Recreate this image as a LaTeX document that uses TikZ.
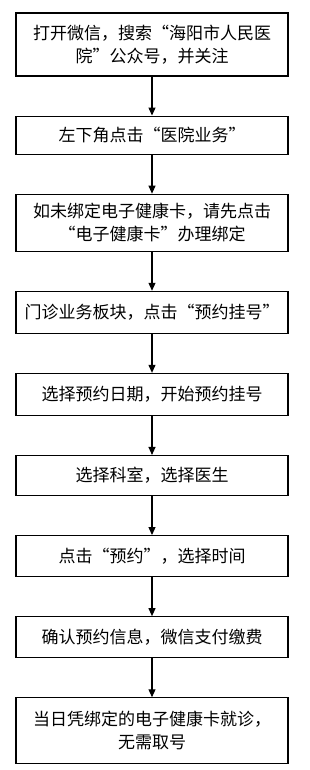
\documentclass[tikz,border=0pt]{standalone}
\usepackage{fontspec}
\newfontfamily\cjk{Noto Sans CJK SC}
\usetikzlibrary{arrows.meta,positioning}
\tikzset{
  flowbox/.style={rectangle, minimum width=272pt, minimum height=41pt, text width=262pt,
    align=center, draw=black, line width=1.1pt, fill=white,
    font=\cjk\fontsize{17}{23}\selectfont, inner sep=4pt},
  flowarr/.style={-{Triangle[length=8pt,width=7pt]}, line width=1.1pt, draw=black},
}
\begin{document}
\begin{tikzpicture}[x=1pt,y=1pt,node distance=39pt]
    \useasboundingbox (0,0) rectangle (309,-770);
    \node[flowbox,minimum height=63pt] (open) at (152,-44.5) {打开微信，搜索“海阳市人民医\\院”公众号，并关注};
    \node[flowbox,minimum height=38pt,below=of open] (yywu) {左下角点击“医院业务”};
    \node[flowbox,minimum height=57pt,below=of yywu] (bind) {如未绑定电子健康卡，请先点击\\“电子健康卡”办理绑定};
    \node[flowbox,minimum height=42pt,below=of bind] (mzyw) {门诊业务板块，点击“预约挂号”};
    \node[flowbox,minimum height=42pt,below=of mzyw] (rq) {选择预约日期，开始预约挂号};
    \node[flowbox,minimum height=40pt,below=of rq] (ks) {选择科室，选择医生};
    \node[flowbox,below=of ks] (sj) {点击“预约”，选择时间};
    \node[flowbox,below=of sj] (pay) {确认预约信息，微信支付缴费};
    \node[flowbox,minimum height=66pt,below=of pay] (visit) {当日凭绑定的电子健康卡就诊，\\无需取号};
    \draw[flowarr](open)--(yywu);\draw[flowarr](yywu)--(bind);\draw[flowarr](bind)--(mzyw);
    \draw[flowarr](mzyw)--(rq);\draw[flowarr](rq)--(ks);\draw[flowarr](ks)--(sj);
    \draw[flowarr](sj)--(pay);\draw[flowarr](pay)--(visit);
\end{tikzpicture}
\end{document}
